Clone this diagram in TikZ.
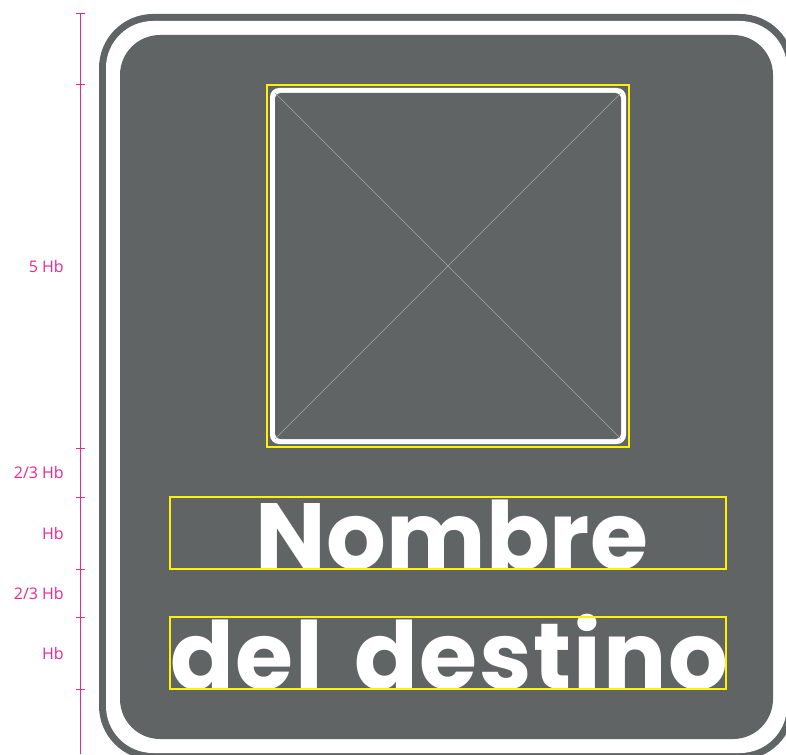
\documentclass[tikz,border=0pt]{standalone}
\usepackage{fontspec}
\usetikzlibrary{positioning,calc}
\newfontfamily\signfont{Poppins}
\newfontfamily\notefont{Open Sans}
\definecolor{board}{HTML}{616465}
\definecolor{guide}{HTML}{E8288E}
\definecolor{frame}{HTML}{FFF200}
\definecolor{cross}{HTML}{A3A5A6}

\begin{document}
\begin{tikzpicture}[
  x=1pt, y=-1pt,
  plate/.style={fill=board},
  band/.style={fill=white},
  box/.style={draw=frame, line width=1.4pt},
  ruler/.style={draw=guide, line width=1pt},
  note/.style={font=\notefont\fontsize{16}{16}\selectfont, text=guide, anchor=east, inner sep=0pt},
  legend/.style={font=\signfont\bfseries\fontsize{94}{94}\selectfont, text=white, inner sep=0pt, anchor=base},
]
\useasboundingbox (0,0) rectangle (786,754);

% ---- sign plate (outer gray, white band, inner gray) ----
\fill[plate, rounded corners=54pt] (99,14) rectangle (794,760);
\fill[band, rounded corners=47pt] (106,21) rectangle (787,753);
\fill[plate, rounded corners=40pt] (120,35) rectangle (773,739);

% ---- pictogram area ----
\fill[band, rounded corners=9pt] (270,88) rectangle (626,444);
\fill[plate, rounded corners=6pt] (275,93) rectangle (621,439);
\coordinate (p1) at (275,93);
\coordinate (p2) at (621,93);
\coordinate (p3) at (621,439);
\coordinate (p4) at (275,439);
\draw[cross, line width=0.6pt] (p1) -- (p3);
\draw[cross, line width=0.6pt] (p2) -- (p4);
\draw[box, line width=2pt] (267,85) rectangle (629,447);

% ---- destination text ----
\node[legend] (name1) at (452,569) {Nombre};
\node[legend] (name2) at (449,689) {\addfontfeatures{LetterSpace=1.8}del\hspace{10pt} destino};
\draw[box] (170,497) rectangle (726,569);
\draw[box] (170,617) rectangle (726,689);

% ---- height ruler ----
\coordinate (t0) at (80,14);
\coordinate (t1) at (80,85);
\coordinate (t2) at (80,448);
\coordinate (t3) at (80,497);
\coordinate (t4) at (80,569);
\coordinate (t5) at (80,617);
\coordinate (t6) at (80,689);
\coordinate (tend) at (80,754);
\draw[ruler] (t0) -- (tend);
\foreach \t in {t0,t1,t2,t3,t4,t5,t6}
  \draw[ruler] ($(\t)+(-4,0)$) -- ($(\t)+(5,0)$);

\node[note] (h1) at (64,266) {5 Hb};
\node[note] (h2) at (64,472) {2/3 Hb};
\node[note] (h3) at (64,533) {Hb};
\node[note] (h4) at (64,593) {2/3 Hb};
\node[note] (h5) at (64,653) {Hb};
\end{tikzpicture}
\end{document}
